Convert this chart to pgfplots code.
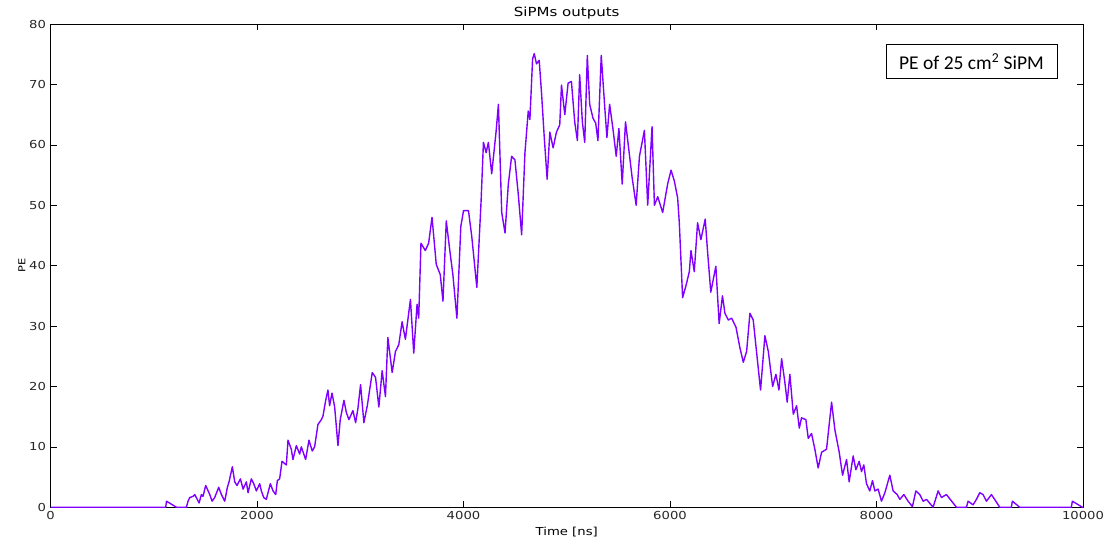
\documentclass[border=0pt]{standalone}
\usepackage{fontspec}
\setmainfont{DejaVu Sans}[FakeStretch=1.2]
\newfontfamily\calibri{Carlito}
\usepackage{pgfplots}
\pgfplotsset{compat=1.18}
\usetikzlibrary{calc}
\definecolor{sipm}{HTML}{8000FF}

\begin{document}
\begin{tikzpicture}
\begin{axis}[
    scale only axis,
    width=1032pt,
    height=483pt,
    xmin=0, xmax=10000,
    ymin=0, ymax=80,
    xtick={0,2000,4000,6000,8000,10000},
    ytick={0,10,20,30,40,50,60,70,80},
    scaled x ticks=false,
    /pgf/number format/assume math mode=true,
    /pgf/number format/1000 sep={},
    tick align=inside,
    major tick length=6pt,
    tick style={black, line width=0.6pt},
    axis line style={black, line width=1pt},
    ticklabel style={font=\fontsize{11}{13}\selectfont, text=black!85},
    xticklabel style={yshift=-1pt},
    yticklabel style={xshift=-1pt},
    title={SiPMs outputs},
    title style={font=\fontsize{12.5}{14}\selectfont, yshift=-5pt},
    xlabel={Time [ns]},
    xlabel style={font=\fontsize{11}{13}\selectfont, yshift=0pt},
    ylabel={PE},
    ylabel style={font=\fontsize{9.5}{11}\selectfont, yshift=-3pt},
]
\addplot[sipm, line width=1.4pt, line join=round] coordinates {
(0,0) (1116,0) (1123,1.0) (1219,0) (1316,0) (1332,1.0) (1348,1.6) (1381,1.8)
(1397,2.1) (1439,0.7) (1461,2.1) (1477,1.8) (1503,3.6) (1542,2.1) (1565,1.0)
(1590,1.6) (1629,3.3) (1655,2.1) (1687,1.0) (1713,3.3) (1729,4.2) (1761,6.7)
(1784,4.2) (1806,3.6) (1839,4.7) (1865,3.0) (1897,4.2) (1913,2.4) (1945,4.7)
(1968,3.9) (1994,2.7) (2026,3.9) (2042,2.7) (2065,1.6) (2090,1.3) (2129,3.9)
(2155,2.7) (2181,2.1) (2197,4.4) (2219,4.7) (2242,7.6) (2284,7.0) (2300,11.1)
(2332,9.6) (2348,7.9) (2381,10.2) (2413,8.8) (2429,10.0) (2471,7.9) (2503,11.1)
(2535,9.3) (2558,10.0) (2590,13.7) (2623,14.5) (2639,15.1) (2665,17.7) (2687,19.4)
(2703,16.8) (2726,18.9) (2752,16.6) (2784,10.2) (2806,14.5) (2842,17.7) (2865,15.7)
(2890,14.5) (2929,16.0) (2955,14.0) (2977,16.3) (3003,20.3) (3035,14.0) (3068,16.8)
(3116,22.3) (3148,21.5) (3180,16.6) (3212,22.6) (3244,18.3) (3267,28.1) (3309,22.3)
(3341,25.8) (3373,26.9) (3405,30.7) (3437,27.8) (3486,34.4) (3518,25.5) (3550,33.6)
(3566,31.3) (3588,43.7) (3630,42.5) (3662,43.7) (3695,48.0) (3736,40.2) (3775,38.5)
(3801,34.1) (3833,47.4) (3865,42.8) (3897,38.5) (3936,31.3) (3974,46.5) (4000,49.1)
(4048,49.1) (4080,44.8) (4129,36.4) (4170,50.6) (4193,60.4) (4219,58.7) (4241,60.4)
(4273,55.2) (4315,62.1) (4338,66.7) (4370,48.8) (4402,45.4) (4434,53.5) (4466,58.1)
(4498,57.5) (4531,51.7) (4563,45.1) (4595,58.7) (4627,65.6) (4643,64.2) (4669,74.2)
(4685,75.1) (4707,73.4) (4733,74.0) (4756,68.5) (4781,61.5) (4810,54.3) (4836,62.1)
(4868,59.5) (4900,62.1) (4932,63.3) (4949,69.9) (4981,65.0) (5013,70.2) (5045,70.5)
(5077,63.8) (5103,60.7) (5125,71.6) (5151,63.8) (5174,60.4) (5199,74.8) (5222,66.7)
(5254,64.4) (5280,63.6) (5302,60.7) (5334,74.8) (5366,66.7) (5389,61.2) (5415,66.7)
(5447,62.7) (5479,58.1) (5505,62.7) (5537,53.5) (5569,63.8) (5601,59.2) (5633,54.6)
(5672,50.0) (5704,58.1) (5752,62.4) (5784,50.0) (5826,63.0) (5849,50.0) (5881,51.4)
(5929,48.8) (5977,53.5) (6010,55.8) (6042,54.0) (6074,51.2) (6090,47.1) (6122,34.7)
(6155,36.7) (6187,39.0) (6203,42.5) (6235,39.0) (6267,47.1) (6299,44.3) (6341,47.7)
(6363,42.5) (6395,35.6) (6444,39.9) (6476,30.4) (6508,35.0) (6532,32.1) (6565,31.0)
(6597,31.3) (6639,29.8) (6677,26.4) (6710,24.0) (6742,25.8) (6774,32.1) (6806,31.0)
(6845,24.6) (6877,19.4) (6919,28.4) (6952,25.8) (6994,20.0) (7026,22.0) (7055,19.4)
(7081,24.6) (7113,20.6) (7135,17.4) (7161,22.0) (7194,15.4) (7226,16.8) (7252,13.1)
(7274,14.8) (7316,14.5) (7339,11.4) (7371,12.2) (7403,9.6) (7435,6.5) (7468,9.1)
(7516,9.6) (7565,17.4) (7597,12.8) (7639,9.1) (7671,5.3) (7710,7.9) (7735,4.2)
(7774,8.5) (7800,6.2) (7832,7.6) (7855,5.9) (7877,7.0) (7903,3.9) (7935,2.7)
(7961,4.4) (7984,2.7) (8016,3.0) (8048,1.0) (8081,2.4) (8129,5.3) (8161,2.7)
(8200,2.1) (8226,1.3) (8265,2.1) (8306,1.0) (8348,0.1) (8381,2.7) (8419,2.1)
(8452,1.0) (8484,1.3) (8548,0) (8597,2.7) (8629,1.6) (8677,2.1) (8774,0)
(8871,0) (8887,1.0) (8935,0.4) (8968,1.3) (9000,2.4) (9032,2.1) (9065,1.0)
(9113,2.1) (9194,0) (9306,0) (9316,1.0) (9387,0) (9887,0) (9897,1.0)
(9994,0) (10000,0)
};
\node[draw=black, fill=white, line width=0.8pt, inner sep=0pt,
      minimum width=171pt, minimum height=34pt,
      font=\calibri\fontsize{19.5}{22}\selectfont]
  at (rel axis cs:0.892,0.922) {PE of 25 cm\textsuperscript{2} SiPM};
\end{axis}
\pgfresetboundingbox
\path[use as bounding box] ($(current axis.south west)+(-50.5pt,-38pt)$)
  rectangle ($(current axis.north east)+(24pt,24pt)$);
\end{tikzpicture}
\end{document}
